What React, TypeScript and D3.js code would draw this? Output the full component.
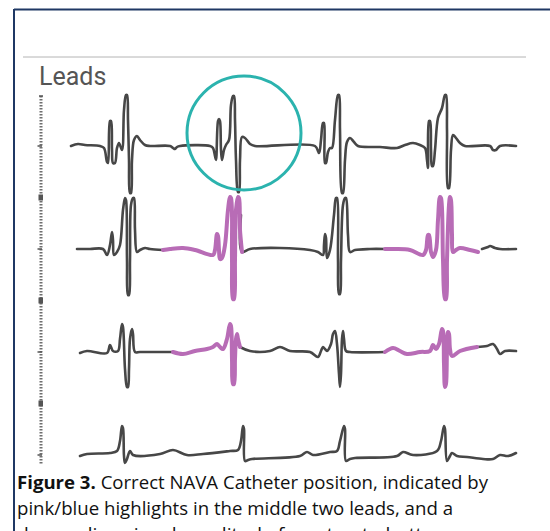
import React, { useEffect, useRef } from "react";
import * as d3 from "d3";

// time in seconds, amplitude in mV
type Pt = [number, number];

const leads = ["Lead 1", "Lead 2", "Lead 3", "Lead 4"];

const lead1: Pt[] = [
  [0.01, 0], [0.08, 0.04], [0.15, 0.02], [0.30, 0], [0.34, -0.04], [0.37, -0.32], [0.38, -0.34],
  [0.40, 0.50], [0.41, 0.50], [0.42, -0.08], [0.43, -0.34], [0.45, -0.34], [0.47, -0.04], [0.49, 0.06],
  [0.52, -0.08], [0.54, 0.72], [0.56, 1.02], [0.57, 1.02], [0.58, 0.52], [0.59, -0.28], [0.60, -0.94],
  [0.61, -0.94], [0.62, -0.28], [0.64, 0.12], [0.67, 0.20], [0.70, 0.12], [0.75, 0.02], [0.80, 0],
  [1.00, 0], [1.03, -0.04], [1.05, -0.06], [1.07, -0.02], [1.10, 0], [1.40, 0], [1.43, -0.04],
  [1.45, -0.20], [1.46, -0.28], [1.48, 0.50], [1.49, 0.54], [1.50, 0.50], [1.51, -0.08], [1.52, -0.28],
  [1.54, -0.08], [1.56, 0.02], [1.59, 0.12], [1.61, 0.82], [1.63, 1.00], [1.64, 1.00], [1.65, 0.52],
  [1.66, -0.28], [1.68, -0.92], [1.69, -0.92], [1.70, -0.28], [1.72, 0.18], [1.75, 0.16], [1.80, 0.04],
  [1.85, 0], [2.45, 0], [2.49, -0.14], [2.51, 0.12], [2.53, 0.46], [2.54, 0.46], [2.55, -0.34],
  [2.56, -0.34], [2.58, -0.12], [2.60, -0.04], [2.62, -0.04], [2.65, 0.52], [2.68, 1.02], [2.69, 1.02],
  [2.70, 0.32], [2.72, -0.94], [2.73, -0.94], [2.75, -0.28], [2.77, 0.08], [2.80, 0.16], [2.84, 0.08],
  [2.88, 0], [3.10, -0.02], [3.27, -0.04], [3.35, 0.02], [3.43, 0.06], [3.50, 0.02], [3.55, -0.04],
  [3.57, -0.28], [3.58, -0.44], [3.59, 0.50], [3.60, 0.50], [3.61, -0.08], [3.62, -0.40], [3.63, -0.40],
  [3.65, -0.08], [3.68, 0.56], [3.72, 0.76], [3.75, 1.02], [3.76, 1.02], [3.77, 0.32], [3.78, -0.84],
  [3.79, -0.84], [3.81, -0.08], [3.83, 0.22], [3.86, 0.16], [3.90, 0.06], [3.95, 0], [4.20, 0],
  [4.23, -0.08], [4.26, -0.08], [4.30, 0], [4.46, 0],
];

const lead2GrayA: Pt[] = [
  [0.07, 0], [0.20, 0], [0.33, 0], [0.37, -0.12], [0.40, 0.08], [0.42, 0.34], [0.43, 0.18], [0.44, -0.12],
  [0.47, -0.06], [0.50, 0.08], [0.53, 0.78], [0.55, 1.02], [0.56, 0.98], [0.57, -0.22], [0.58, -0.92],
  [0.59, -0.92], [0.60, -0.22], [0.61, 0.88], [0.63, 1.02], [0.64, 1.02], [0.65, 0.38], [0.67, -0.06],
  [0.70, -0.02], [0.75, 0.02], [0.80, 0], [0.93, -0.02],
];
const lead2Pink1: Pt[] = [
  [0.93, -0.02], [1.00, 0], [1.13, 0.02], [1.25, -0.02], [1.43, -0.12], [1.45, -0.02], [1.47, 0.30],
  [1.48, 0.26], [1.49, -0.02], [1.50, -0.20], [1.52, -0.18], [1.55, 0.08], [1.58, 0.78], [1.60, 1.04],
  [1.61, 1.02], [1.62, -0.22], [1.63, -1.00], [1.64, -1.00], [1.65, -0.22], [1.66, 0.78], [1.68, 1.04],
  [1.69, 1.02], [1.70, 0.38], [1.72, -0.06],
];
const lead2GrayB: Pt[] = [
  [1.71, 0.68], [1.72, -0.06], [1.80, 0], [2.10, 0.02], [2.40, -0.02], [2.48, -0.06], [2.53, -0.12],
  [2.54, 0.08], [2.55, 0.30], [2.56, 0.22], [2.57, -0.18], [2.60, -0.02], [2.64, 0.68], [2.66, 1.02],
  [2.67, 1.02], [2.68, -0.22], [2.69, -0.90], [2.70, -0.90], [2.71, -0.22], [2.73, 0.88], [2.75, 1.02],
  [2.76, 1.02], [2.78, 0.28], [2.80, -0.06], [2.85, -0.02], [3.00, 0], [3.15, 0],
];
const lead2Pink2: Pt[] = [
  [3.15, 0], [3.25, 0], [3.40, -0.02], [3.53, -0.12], [3.56, -0.02], [3.58, 0.28], [3.59, 0.28],
  [3.61, -0.06], [3.63, -0.16], [3.66, -0.02], [3.68, 0.58], [3.70, 1.04], [3.71, 1.02], [3.73, -0.22],
  [3.75, -1.00], [3.76, -1.00], [3.77, -0.22], [3.79, 0.88], [3.80, 1.04], [3.81, 0.98], [3.82, 0.28],
  [3.83, -0.06], [3.86, -0.02], [3.90, 0.02], [4.00, -0.02], [4.08, -0.06],
];
const lead2GrayC: Pt[] = [
  [4.12, 0], [4.18, 0.04], [4.20, 0.06], [4.25, 0.02], [4.30, 0], [4.46, 0],
];

const lead3GrayA: Pt[] = [
  [0.10, -0.02], [0.17, 0.02], [0.37, -0.02], [0.40, 0.14], [0.43, 0.02], [0.48, 0.02], [0.50, 0.26],
  [0.52, 0.56], [0.53, 0.50], [0.55, -0.34], [0.57, -0.70], [0.58, -0.70], [0.59, -0.34], [0.60, 0.26],
  [0.62, 0.46], [0.63, 0.36], [0.65, 0], [0.70, 0], [1.03, 0],
];
const lead3Pink1: Pt[] = [
  [1.03, 0], [1.13, -0.04], [1.25, 0.02], [1.37, 0.06], [1.43, 0.10], [1.47, 0.16], [1.50, 0.10],
  [1.53, 0.06], [1.57, 0.26], [1.60, 0.56], [1.61, 0.52], [1.62, -0.14], [1.63, -0.64], [1.64, -0.64],
  [1.65, -0.14], [1.66, 0.26], [1.67, 0.36], [1.68, 0.26], [1.70, 0.10],
];
const lead3GrayB: Pt[] = [
  [1.70, 0.10], [1.80, 0.02], [2.00, 0.02], [2.10, 0.10], [2.20, 0.02], [2.40, 0], [2.48, -0.10],
  [2.51, 0.02], [2.53, 0.10], [2.55, 0.06], [2.57, 0.02], [2.61, 0.16], [2.63, 0.36], [2.65, 0.42],
  [2.67, 0.16], [2.69, -0.44], [2.70, -0.70], [2.71, -0.44], [2.72, 0.26], [2.73, 0.42], [2.74, 0.26],
  [2.76, 0.02], [2.80, 0], [3.15, 0],
];
const lead3Pink2: Pt[] = [
  [3.15, 0], [3.23, 0.08], [3.30, 0.02], [3.37, -0.04], [3.50, 0], [3.60, 0.02], [3.63, 0.14],
  [3.66, 0.06], [3.69, 0.16], [3.72, 0.46], [3.73, 0.42], [3.74, -0.24], [3.75, -0.70], [3.76, -0.64],
  [3.77, 0.06], [3.78, 0.40], [3.79, 0.36], [3.80, 0.06], [3.82, -0.08], [3.90, 0.02], [4.07, 0.10],
];
const lead3GrayC: Pt[] = [
  [4.07, 0.10], [4.17, 0.12], [4.23, 0.16], [4.27, 0.06], [4.30, -0.04], [4.35, 0.02], [4.46, 0.02],
];

const lead4: Pt[] = [
  [0.10, -0.02], [0.17, 0.02], [0.40, 0.04], [0.47, 0.08], [0.50, 0.28], [0.52, 0.58], [0.53, 0.54],
  [0.54, -0.02], [0.55, -0.16], [0.57, -0.08], [0.60, 0.08], [0.63, 0], [0.90, 0.02], [1.03, 0.10],
  [1.17, 0], [1.33, 0.02], [1.60, 0.08], [1.68, 0.10], [1.71, 0.28], [1.73, 0.58], [1.74, 0.52],
  [1.75, -0.12], [1.78, -0.10], [1.82, -0.08], [2.30, -0.02], [2.37, 0.06], [2.43, 0], [2.60, 0.06],
  [2.67, 0.08], [2.70, 0.28], [2.74, 0.58], [2.75, 0.52], [2.76, -0.12], [2.80, -0.08], [2.85, -0.06],
  [3.27, -0.02], [3.33, 0.06], [3.43, 0], [3.67, 0.08], [3.71, 0.28], [3.74, 0.58], [3.75, 0.52],
  [3.77, -0.12], [3.80, -0.02], [3.82, 0.04], [3.87, -0.02], [3.97, -0.04], [4.13, -0.08], [4.23, -0.08],
  [4.30, 0], [4.38, -0.02], [4.46, 0.04],
];

const captionLines = [
  ["Figure 3.", " Correct NAVA Catheter position, indicated by"],
  ["", "pink/blue highlights in the middle two leads, and a"],
  ["", "descending signal amplitude from top to bottom."],
];

export default function App() {
  const svgRef = useRef<SVGSVGElement | null>(null);

  useEffect(() => {
    if (!svgRef.current) return;
    const W = 550, H = 531;
    const svg = d3.select(svgRef.current).attr("width", W).attr("height", H);
    svg.selectAll("*").remove();

    const gray = "#474747";
    const pink = "#b86cb6";

    // frame
    svg.append("line").attr("x1", 14).attr("x2", W).attr("y1", 9.5).attr("y2", 9.5)
      .attr("stroke", "#1f3864").attr("stroke-width", 2);
    svg.append("line").attr("x1", 14).attr("x2", 14).attr("y1", 9).attr("y2", H)
      .attr("stroke", "#1f3864").attr("stroke-width", 2);

    svg.append("line").attr("x1", 23).attr("x2", 526).attr("y1", 57).attr("y2", 57)
      .attr("stroke", "#b4b4b4").attr("stroke-width", 1);

    svg.append("text").attr("x", 39).attr("y", 85)
      .attr("font-family", "Roboto, sans-serif").attr("font-size", 25)
      .attr("fill", "#555").text("Leads");

    const x = d3.scaleLinear().domain([0, 4.46]).range([70, 516]);
    const lane = d3.scalePoint<string>().domain(leads).range([146, 455]);
    const yFor = (lead: string) => d3.scaleLinear().domain([-1, 1]).range([lane(lead)! + 50, lane(lead)! - 50]);

    // ruler on the left
    const ruler = svg.append("g");
    ruler.append("line").attr("x1", 41).attr("x2", 41).attr("y1", 96).attr("y2", 464)
      .attr("stroke", "#6f6f6f").attr("stroke-width", 3).attr("stroke-dasharray", "1.4,1.6");
    ruler.append("line").attr("x1", 39).attr("x2", 43).attr("y1", 96).attr("y2", 96)
      .attr("stroke", "#555").attr("stroke-width", 1.5);
    leads.forEach((l, i) => {
      const y0 = lane(l)!;
      ruler.append("line").attr("x1", 37.5).attr("x2", 42).attr("y1", y0).attr("y2", y0)
        .attr("stroke", "#555").attr("stroke-width", 1.5);
      if (i < leads.length - 1) {
        const ym = (y0 + lane(leads[i + 1])!) / 2;
        ruler.append("rect").attr("x", 38.5).attr("y", ym - 3).attr("width", 4.5).attr("height", 6)
          .attr("fill", "#555");
      }
    });

    const segments = [
      { lead: leads[0], pts: lead1, color: gray },
      { lead: leads[1], pts: lead2GrayA, color: gray },
      { lead: leads[1], pts: lead2GrayB, color: gray },
      { lead: leads[1], pts: lead2GrayC, color: gray },
      { lead: leads[1], pts: lead2Pink1, color: pink },
      { lead: leads[1], pts: lead2Pink2, color: pink },
      { lead: leads[2], pts: lead3GrayA, color: gray },
      { lead: leads[2], pts: lead3GrayB, color: gray },
      { lead: leads[2], pts: lead3GrayC, color: gray },
      { lead: leads[2], pts: lead3Pink1, color: pink },
      { lead: leads[2], pts: lead3Pink2, color: pink },
      { lead: leads[3], pts: lead4, color: gray },
    ];

    segments.forEach((s) => {
      const y = yFor(s.lead);
      const line = d3.line<Pt>()
        .x((d) => x(d[0]))
        .y((d) => y(d[1]))
        .curve(d3.curveCatmullRom.alpha(0.5));
      svg.append("path")
        .datum(s.pts)
        .attr("d", line)
        .attr("fill", "none")
        .attr("stroke", s.color)
        .attr("stroke-width", s.color === pink ? 4 : 2.6)
        .attr("stroke-linejoin", "round")
        .attr("stroke-linecap", "round");
    });

    // highlight circle round the second beat of lead 1
    svg.append("circle")
      .attr("cx", x(1.74)).attr("cy", 133).attr("r", 57)
      .attr("fill", "none").attr("stroke", "#2bb3ae").attr("stroke-width", 3);

    // caption
    const caption = svg.append("g")
      .attr("font-family", "'Open Sans', sans-serif").attr("font-size", 17.5).attr("fill", "#111");
    const widths = [471, 436, 440];
    captionLines.forEach((ln, i) => {
      const t = caption.append("text").attr("x", 17).attr("y", 489 + i * 26)
        .attr("textLength", widths[i]).attr("lengthAdjust", "spacingAndGlyphs");
      if (ln[0]) t.append("tspan").attr("font-weight", "bold").text(ln[0]);
      t.append("tspan").text(ln[1]);
    });
  }, []);

  return (
    <div style={{ position: "absolute", left: 0, top: 0, width: 550, height: 531, background: "#fff" }}>
      <svg ref={svgRef} style={{ display: "block" }} />
    </div>
  );
}
